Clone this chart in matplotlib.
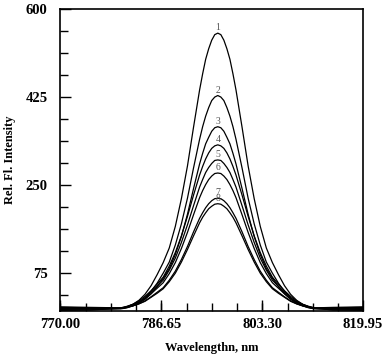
import numpy as np
import matplotlib
matplotlib.use('Agg')
from matplotlib import pyplot as plt
from matplotlib.ticker import MultipleLocator, FixedLocator

# Comprimentos de onda (nm) e intensidades
wavelength = ([770, 775] + list(range(780, 794)) +
              [793.5, 794, 794.5, 795, 795.5, 796, 796.5, 797, 797.5, 798, 798.5] +
              list(range(799, 813)) + [815, 819.95])

curve_1 = [2, 2, 5, 8, 13, 21, 33, 50, 72, 96, 125, 168, 223, 288, 365, 439,
           471, 500, 521, 538, 549, 552, 549, 538, 521, 500, 471,
           439, 365, 288, 223, 168, 125, 96, 72, 50, 33, 21, 13, 8, 5, 2, 2]
curve_2 = [4, 4, 5, 7, 11, 17, 26, 39, 55, 75, 97, 131, 173, 224, 284, 341,
           366, 387, 404, 418, 425, 428, 425, 418, 404, 387, 366,
           341, 284, 224, 173, 131, 97, 75, 55, 39, 26, 17, 11, 7, 5, 4, 4]
curve_3 = [6, 5, 4, 6, 10, 15, 23, 34, 48, 65, 84, 112, 148, 192, 243, 292,
           313, 332, 345, 357, 364, 366, 364, 357, 345, 332, 313,
           292, 243, 192, 148, 112, 84, 65, 48, 34, 23, 15, 10, 6, 4, 5, 6]
curve_4 = [8, 7, 6, 9, 13, 20, 29, 40, 53, 67, 89, 116, 149, 188, 230, 270,
           287, 302, 314, 323, 328, 330, 328, 323, 314, 302, 287,
           270, 230, 188, 149, 116, 89, 67, 53, 40, 29, 20, 13, 9, 6, 7, 8]
curve_5 = [3, 4, 6, 8, 13, 18, 26, 37, 49, 61, 81, 105, 136, 171, 209, 246,
           261, 275, 285, 293, 299, 300, 299, 293, 285, 275, 261,
           246, 209, 171, 136, 105, 81, 61, 49, 37, 26, 18, 13, 8, 6, 4, 3]
curve_6 = [1, 2, 5, 8, 12, 17, 24, 34, 45, 56, 74, 96, 124, 156, 191, 225,
           239, 251, 261, 268, 273, 274, 273, 268, 261, 251, 239,
           225, 191, 156, 124, 96, 74, 56, 45, 34, 24, 17, 12, 8, 5, 2, 1]
curve_7 = [5, 6, 5, 7, 10, 14, 20, 28, 37, 46, 61, 79, 102, 128, 157, 184,
           195, 205, 213, 219, 223, 224, 223, 219, 213, 205, 195,
           184, 157, 128, 102, 79, 61, 46, 37, 28, 20, 14, 10, 7, 5, 6, 5]
curve_8 = [7, 6, 5, 7, 10, 14, 19, 27, 35, 44, 58, 75, 97, 122, 149, 175,
           186, 195, 203, 208, 212, 213, 212, 208, 203, 195, 186,
           175, 149, 122, 97, 75, 58, 44, 35, 27, 19, 14, 10, 7, 5, 6, 7]

curves = [curve_1, curve_2, curve_3, curve_4, curve_5, curve_6, curve_7, curve_8]
labels = ['1', '2', '3', '4', '5', '6', '7', '8']

x_ticks = [770.00, 786.65, 803.30, 819.95]
y_ticks = [75, 250, 425, 600]

plt.rcParams['font.family'] = ['Liberation Serif', 'DejaVu Serif']

fig = plt.figure(figsize=(3.9, 3.59), dpi=100)
ax = fig.add_axes([0.154, 0.134, 0.777, 0.841])

for y, lab in zip(curves, labels):
    ax.plot(wavelength, y, color='black', linewidth=0.9)
    i = int(np.argmax(y))
    ax.text(wavelength[i], y[i] + 2, lab, ha='center', va='bottom',
            fontsize=7, color='#555555')

ax.set_xlim(770, 819.95)
ax.set_ylim(0, 600)

ax.xaxis.set_major_locator(FixedLocator(x_ticks))
ax.xaxis.set_minor_locator(MultipleLocator(16.65 / 4))
ax.yaxis.set_major_locator(FixedLocator(y_ticks))
ax.yaxis.set_minor_locator(FixedLocator([31.25 + 43.75 * k for k in range(13)]))

ax.set_xticklabels(['%.2f' % v for v in x_ticks], fontweight='bold', fontsize=10.5)
ax.set_yticklabels([str(v) for v in y_ticks], fontweight='bold', fontsize=10.5)

ax.tick_params(axis='both', which='major', direction='in', length=8, width=1)
ax.tick_params(axis='both', which='minor', direction='in', length=6, width=1)
ax.tick_params(axis='y', which='major', pad=9)
ax.tick_params(axis='x', which='major', pad=5)

for s in ax.spines.values():
    s.set_linewidth(1.2)

ax.set_xlabel('Wavelengthn, nm', fontweight='bold', fontsize=9, labelpad=8)
ax.set_ylabel('Rel. Fl. Intensity', fontweight='bold', fontsize=9, labelpad=7)

fig.savefig('out.png', dpi=100)
